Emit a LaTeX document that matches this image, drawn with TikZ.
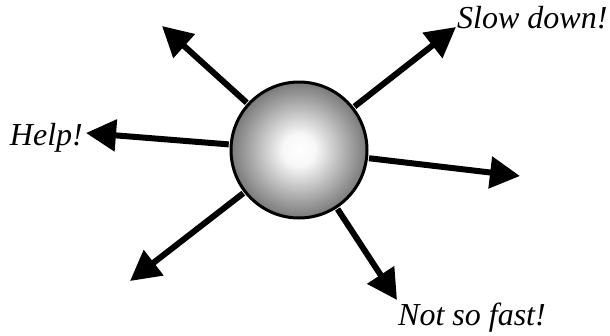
\documentclass[tikz,border=0pt]{standalone}
\usepackage{fontspec}
\setmainfont{Liberation Serif}
\usetikzlibrary{arrows.meta}
\pgfdeclareradialshading{glow}{\pgfpoint{0bp}{0bp}}{color(0bp)=(white); color(6bp)=(white!97!black); color(25bp)=(gray!95!black); color(50bp)=(gray!95!black)}
\tikzset{
  ray/.style={-{Triangle[length=30pt,width=31pt]},line width=6pt,shorten <=1pt},
  shout/.style={font=\fontsize{32}{38}\selectfont\itshape,inner sep=0pt},
}
\begin{document}
\begin{tikzpicture}[x=1pt,y=-1pt]
\useasboundingbox (0,0) rectangle (610,335);
% tips of the six rays
\coordinate (tipNW) at (162,26); \coordinate (tipNE) at (456,27); \coordinate (tipW) at (86,133);
\coordinate (tipE) at (520,176); \coordinate (tipSW) at (130,281); \coordinate (tipSE) at (397,300);
\node[circle,minimum size=136pt,inner sep=0pt,draw,line width=3pt,shading=glow] (ball) at (299,150) {};
\foreach \t in {NW,NE,W,E,SW,SE} \draw[ray] (ball) -- (tip\t);
% the three shouts
\node[shout,anchor=base east] (help) at (83,145) {Help!};
\node[shout,anchor=base west] (slow) at (457,28) {Slow down!};
\node[shout,anchor=base west] (notfast) at (398,325) {Not so fast!};
\end{tikzpicture}
\end{document}
